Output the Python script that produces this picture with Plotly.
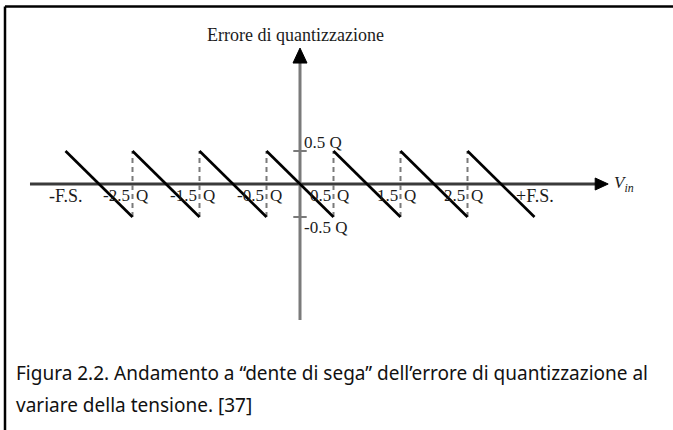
import plotly.graph_objects as go

# Sawtooth quantisation error: each tooth runs from +Q/2 down to -Q/2 over one LSB
tooth_starts = [-3.5, -2.5, -1.5, -0.5, 0.5, 1.5, 2.5]   # in units of Q
err_high = 0.5
err_low = -0.5
full_scale = 3.5

tick_pos = [-2.5, -1.5, -0.5, 0.5, 1.5, 2.5]
tick_num = ["-2.5", "-1.5", "-0.5", "0.5", "1.5", "2.5"]
fs_labels = ["-F.S.", "+F.S."]
y_tick_pos = [0.5, -0.5]
y_tick_text = ["0.5 Q", "-0.5 Q"]

title_text = "Errore di quantizzazione"
caption_lines = [
    "Figura 2.2. Andamento a \u201cdente di sega\u201d dell\u2019errore di quantizzazione al",
    "variare della tensione. [37]",
]

W, H = 673, 430
PX_X, PX_Y = 67.0, 66.0          # pixels per Q
X0, Y0 = 300.0, 184.0            # pixel position of the origin

x_range = [-X0 / PX_X, (W - X0) / PX_X]
y_range = [-(H - Y0) / PX_Y, Y0 / PX_Y]

# axis extents (in Q)
x_axis_from, x_axis_to = -4.03, 4.60
y_axis_from, y_axis_to = -2.06, 2.06
SERIF = "Liberation Serif, Times New Roman, serif"
INK = "#1c1c1c"
LBL = 17

fig = go.Figure()

# tooth ramps
xs, ys = [], []
for s in tooth_starts:
    xs += [s, s + 1, None]
    ys += [err_high, err_low, None]

# dashed risers at each step (between consecutive teeth)
dx, dy = [], []
for s in tooth_starts[1:]:
    dx += [s, s, None]
    dy += [err_low, err_high, None]

fig.add_trace(go.Scatter(x=dx, y=dy, mode="lines",
                         line=dict(color="#7a7a7a", width=2, dash="5px,4px"),
                         hoverinfo="skip", showlegend=False))

# axes lines
shapes = []
shapes.append(dict(type="line", x0=x_axis_from, x1=x_axis_to - 0.15, y0=0, y1=0,
                   line=dict(color="#3a3a3a", width=3), layer="below"))
shapes.append(dict(type="line", x0=0, x1=0, y0=y_axis_from, y1=y_axis_to - 0.15,
                   line=dict(color="#7a7a7a", width=3), layer="below"))
# arrow heads
ah_len_x, ah_half_x = 13 / PX_X, 6 / PX_Y
shapes.append(dict(type="path",
                   path=f"M {x_axis_to} 0 L {x_axis_to - ah_len_x} {ah_half_x} "
                        f"L {x_axis_to - ah_len_x} {-ah_half_x} Z",
                   fillcolor="black", line=dict(color="black", width=1)))
ah_len_y, ah_half_y = 15 / PX_Y, 7 / PX_X
shapes.append(dict(type="path",
                   path=f"M 0 {y_axis_to} L {ah_half_y} {y_axis_to - ah_len_y} "
                        f"L {-ah_half_y} {y_axis_to - ah_len_y} Z",
                   fillcolor="black", line=dict(color="black", width=1)))
# y ticks
for yv in y_tick_pos:
    shapes.append(dict(type="line", x0=-0.1, x1=0.1, y0=yv, y1=yv,
                       line=dict(color="#7a7a7a", width=2)))
# page border (top and left)
shapes.append(dict(type="line", xref="paper", yref="paper",
                   x0=5 / W, x1=1, y0=1 - 6.5 / H, y1=1 - 6.5 / H,
                   line=dict(color="black", width=2.5)))
shapes.append(dict(type="line", xref="paper", yref="paper",
                   x0=5 / W, x1=5 / W, y0=0, y1=1 - 6.5 / H,
                   line=dict(color="black", width=2.5)))

fig.add_trace(go.Scatter(x=xs, y=ys, mode="lines",
                         line=dict(color="black", width=2.7),
                         hoverinfo="skip", showlegend=False))

ann = []
lab_y = -11.5 / PX_Y
for p, t in zip(tick_pos, tick_num):
    ann.append(dict(x=p, y=lab_y, text=t, showarrow=False, xanchor="right",
                    xshift=-1, font=dict(family=SERIF, size=LBL, color=INK)))
    ann.append(dict(x=p, y=lab_y, text="Q", showarrow=False, xanchor="left",
                    xshift=1, font=dict(family=SERIF, size=LBL, color=INK)))
for p, t in zip([-full_scale, full_scale], fs_labels):
    ann.append(dict(x=p, y=lab_y, text=t, showarrow=False, xanchor="center",
                    font=dict(family=SERIF, size=LBL + 1, color=INK)))
ann.append(dict(x=0.03, y=0.63, text=y_tick_text[0], showarrow=False, xanchor="left",
                font=dict(family=SERIF, size=LBL, color=INK)))
ann.append(dict(x=0.03, y=-0.66, text=y_tick_text[1], showarrow=False, xanchor="left",
                font=dict(family=SERIF, size=LBL, color=INK)))
ann.append(dict(x=(612 - X0) / PX_X, y=0.0, text="<i>V</i><sub><i>in</i></sub>",
                showarrow=False, xanchor="left",
                font=dict(family=SERIF, size=17, color=INK)))
ann.append(dict(x=-5 / PX_X, y=(Y0 - 34.5) / PX_Y, text=title_text, showarrow=False,
                xanchor="center", font=dict(family=SERIF, size=18, color=INK)))

for i, line in enumerate(caption_lines):
    ann.append(dict(xref="paper", yref="paper", x=14 / W, y=1 - (373 + 32 * i) / H,
                    text=line, showarrow=False, xanchor="left", yanchor="middle",
                    font=dict(family="Noto Sans, Open Sans, sans-serif", size=19,
                              color="#111")))

fig.update_layout(
    width=W, height=H, margin=dict(l=0, r=0, t=0, b=0),
    paper_bgcolor="white", plot_bgcolor="white",
    xaxis=dict(range=x_range, visible=False, fixedrange=True),
    yaxis=dict(range=y_range, visible=False, fixedrange=True),
    shapes=shapes, annotations=ann, showlegend=False,
)

fig.write_html("out.html")
